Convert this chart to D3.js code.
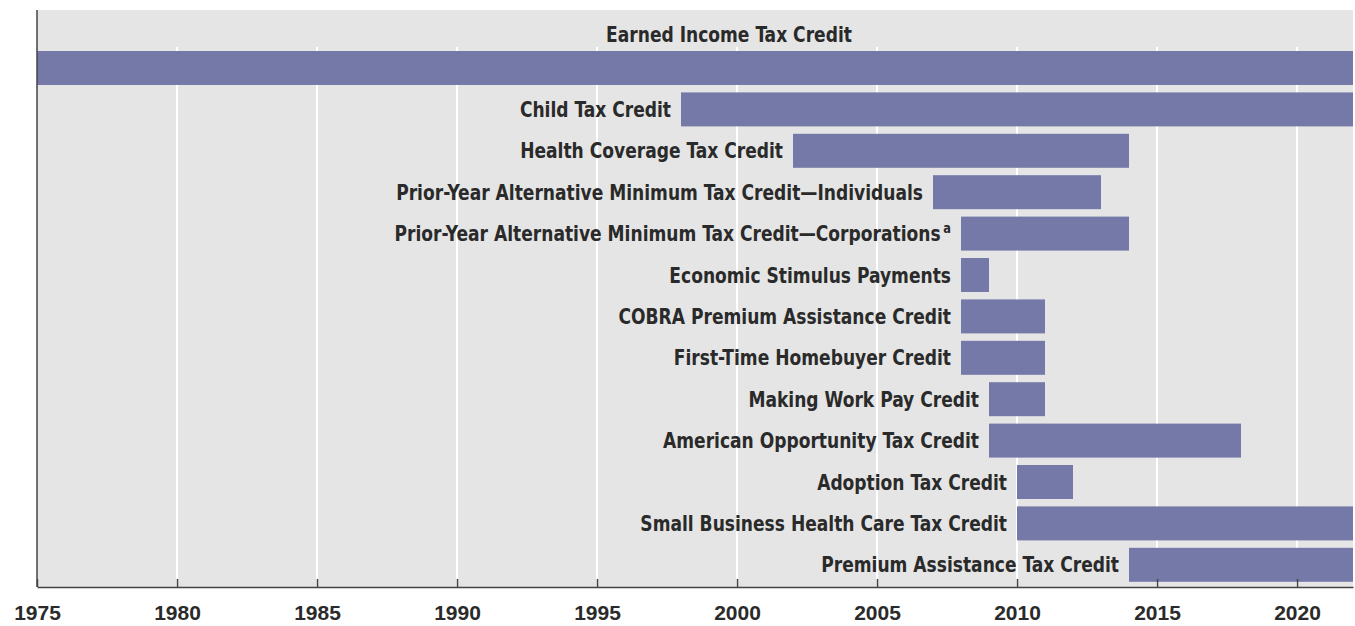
<!DOCTYPE html>
<html>
<head>
<meta charset="utf-8">
<script src="https://cdn.jsdelivr.net/npm/d3@7"></script>
<style>
  body { margin: 0; background: #fff; }
  svg { display: block; }
</style>
</head>
<body>
<div id="chart"></div>
<script>
// credits in display order, with the years they were in effect
const credits = [
    'Earned Income Tax Credit',
    'Child Tax Credit',
    'Health Coverage Tax Credit',
    'Prior-Year Alternative Minimum Tax Credit—Individuals',
    'Prior-Year Alternative Minimum Tax Credit—Corporations',
    'Economic Stimulus Payments',
    'COBRA Premium Assistance Credit',
    'First-Time Homebuyer Credit',
    'Making Work Pay Credit',
    'American Opportunity Tax Credit',
    'Adoption Tax Credit',
    'Small Business Health Care Tax Credit',
    'Premium Assistance Tax Credit'
];
const startYears = [1975, 1998, 2002, 2007, 2008, 2008, 2008, 2008, 2009, 2009, 2010, 2010, 2014];
const endYears   = [2022, 2022, 2014, 2013, 2014, 2009, 2011, 2011, 2011, 2018, 2012, 2022, 2022];
const footnotes  = ['', '', '', '', 'a', '', '', '', '', '', '', '', ''];
const tickYears  = [1975, 1980, 1985, 1990, 1995, 2000, 2005, 2010, 2015, 2020];

const width = 1355, height = 626;
const plot = { left: 37, right: 1353, top: 10, bottom: 587 };
const labelFont = '"DejaVu Sans Condensed", "DejaVu Sans", sans-serif';
const squeeze = 0.905; // the original face is narrower than anything installed
const textColor = '#2a2a2a';

const rows = credits.map((name, i) => ({
    name, start: startYears[i], end: endYears[i], note: footnotes[i]
}));

const svg = d3.select('#chart')
    .append('svg')
    .attr('width', width)
    .attr('height', height);

const x = d3.scaleLinear().domain([1975, 2022]).range([plot.left, plot.right]);
const y = d3.scaleBand()
    .domain(credits)
    .range([51, 581.8])
    .paddingInner(0.179)
    .paddingOuter(0);

// panel background
svg.append('rect')
    .attr('x', plot.left)
    .attr('y', plot.top)
    .attr('width', plot.right - plot.left)
    .attr('height', plot.bottom - plot.top)
    .attr('fill', '#e5e5e5');

// white gridlines, they start just above the first bar
svg.append('g')
    .selectAll('line')
    .data(tickYears.filter(t => t > 1975))
    .enter()
    .append('line')
    .attr('x1', d => x(d))
    .attr('x2', d => x(d))
    .attr('y1', 47)
    .attr('y2', plot.bottom)
    .attr('stroke', '#fff')
    .attr('stroke-width', 2);

// bars
svg.append('g')
    .selectAll('rect')
    .data(rows)
    .enter()
    .append('rect')
    .attr('x', d => x(d.start))
    .attr('y', d => y(d.name))
    .attr('width', d => x(d.end) - x(d.start))
    .attr('height', y.bandwidth())
    .attr('fill', '#7479a8');

// labels: first one sits above its bar (a bit right of centre), others left of the bar
const labels = svg.append('g')
    .attr('font-family', labelFont)
    .attr('font-weight', 'bold')
    .attr('font-size', 21)
    .attr('fill', textColor)
    .selectAll('text')
    .data(rows)
    .enter()
    .append('text')
    .attr('transform', (d, i) => {
        const tx = i === 0 ? (x(d.start) + x(d.end)) / 2 + 34 : x(d.start) - 10;
        const ty = i === 0 ? 42 : y(d.name) + y.bandwidth() / 2;
        return `translate(${tx},${ty}) scale(${squeeze},1)`;
    })
    .attr('dy', (d, i) => i === 0 ? 0 : '0.36em')
    .attr('text-anchor', (d, i) => i === 0 ? 'middle' : 'end');

labels.append('tspan').text(d => d.name);
labels.filter(d => d.note)
    .append('tspan')
    .attr('font-size', 14)
    .attr('dx', 3)
    .attr('baseline-shift', '60%')
    .text(d => d.note);

// x axis with short ticks pointing up into the panel
const xAxis = d3.axisBottom(x)
    .tickValues(tickYears)
    .tickFormat(d3.format('d'))
    .tickSizeInner(-8)
    .tickSizeOuter(0)
    .tickPadding(18);

const gx = svg.append('g')
    .attr('transform', `translate(0,${plot.bottom})`)
    .call(xAxis);
gx.select('.domain').attr('stroke', '#444').attr('stroke-width', 1.5);
gx.selectAll('.tick line').attr('stroke', '#444').attr('stroke-width', 1.5);
gx.selectAll('.tick text')
    .attr('font-family', '"Liberation Sans", Arial, sans-serif')
    .attr('font-weight', 'bold')
    .attr('font-size', 21)
    .attr('fill', textColor);

svg.append('line')
    .attr('x1', plot.left)
    .attr('x2', plot.left)
    .attr('y1', plot.top)
    .attr('y2', plot.bottom)
    .attr('stroke', '#444')
    .attr('stroke-width', 1.5);
</script>
</body>
</html>
